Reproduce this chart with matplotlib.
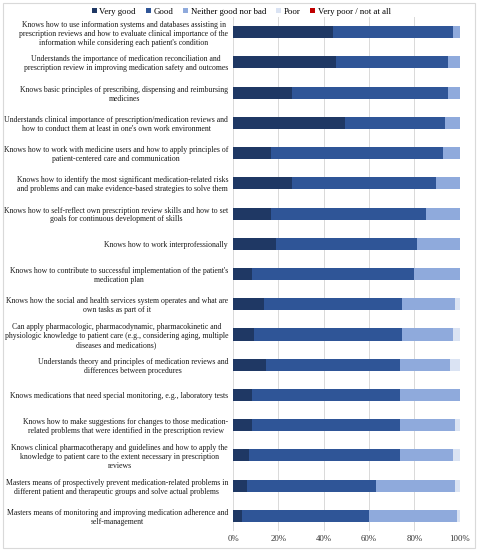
import matplotlib
matplotlib.use('Agg')
import numpy as np
import matplotlib.pyplot as plt
from matplotlib.patches import Rectangle

plt.rcParams['font.family'] = ['Liberation Serif', 'DejaVu Serif']

CATEGORIES = [
    "Knows how to use information systems and databases assisting in\n"
    "prescription reviews and how to evaluate clinical importance of the\n"
    "information while considering each patient's condition",
    "Understands the importance of medication reconciliation and\n"
    "prescription review in improving medication safety and outcomes",
    "Knows basic principles of prescribing, dispensing and reimbursing\n"
    "medicines",
    "Understands clinical importance of prescription/medication reviews and\n"
    "how to conduct them at least in one's own work environment",
    "Knows how to work with medicine users and how to apply principles of\n"
    "patient-centered care and communication",
    "Knows how to identify the most significant medication-related risks\n"
    "and problems and can make evidence-based strategies to solve them",
    "Knows how to self-reflect own prescription review skills and how to set\n"
    "goals for continuous development of skills",
    "Knows how to work interprofessionally",
    "Knows how to contribute to successful implementation of the patient's\n"
    "medication plan",
    "Knows how the social and health services system operates and what are\n"
    "own tasks as part of it",
    "Can apply pharmacologic, pharmacodynamic, pharmacokinetic and\n"
    "physiologic knowledge to patient care (e.g., considering aging, multiple\n"
    "diseases and medications)",
    "Understands theory and principles of medication reviews and\n"
    "differences between procedures",
    "Knows medications that need special monitoring, e.g., laboratory tests",
    "Knows how to make suggestions for changes to those medication-\n"
    "related problems that were identified in the prescription review",
    "Knows clinical pharmacotherapy and guidelines and how to apply the\n"
    "knowledge to patient care to the extent necessary in prescription\n"
    "reviews",
    "Masters means of prospectively prevent medication-related problems in\n"
    "different patient and therapeutic groups and solve actual problems",
    "Masters means of monitoring and improving medication adherence and\n"
    "self-management",
]

SERIES = ['Very good', 'Good', 'Neither good nor bad', 'Poor',
          'Very poor / not at all']

# percentages per category (rows follow CATEGORIES)
VERY_GOOD = [44.2, 45.4, 26.2, 49.3, 16.6, 26.2, 16.6, 18.9, 8.2,
             13.5, 9.4, 14.6, 8.2, 8.2, 7.2, 6.2, 4.1]
GOOD = [52.7, 49.4, 68.6, 44.4, 76.2, 63.3, 68.7, 62.1, 71.8,
        61.2, 65.3, 59.0, 65.4, 65.4, 66.4, 57.0, 55.8]
NEITHER = [3.1, 5.2, 5.2, 6.3, 7.2, 10.5, 14.7, 19.0, 20.0,
           23.2, 22.2, 22.3, 26.4, 24.3, 23.3, 34.7, 39.1]
POOR = [0.0, 0.0, 0.0, 0.0, 0.0, 0.0, 0.0, 0.0, 0.0,
        2.1, 3.1, 4.1, 0.0, 2.1, 3.1, 2.1, 1.0]
VERY_POOR = [0.0] * 17

COLORS = ['#1F3864', '#2F5597', '#8FAADC', '#DAE3F3', '#C00000']
XTICKS = [0, 20, 40, 60, 80, 100]


def main():
    fig = plt.figure(figsize=(4.78, 5.5), dpi=100)
    ax = fig.add_axes([0.4874, 0.0345, 0.4743, 0.9345])

    y = np.arange(len(CATEGORIES))
    left = np.zeros(len(CATEGORIES))
    for name, vals, color in zip(
            SERIES, [VERY_GOOD, GOOD, NEITHER, POOR, VERY_POOR], COLORS):
        vals = np.array(vals)
        ax.barh(y, vals, left=left, height=0.4, color=color,
                label=name, zorder=3)
        left += vals

    ax.set_ylim(len(CATEGORIES) - 0.5, -0.5)
    ax.set_xlim(0, 100)
    ax.set_yticks(y)
    ax.set_yticklabels(CATEGORIES, fontsize=5.6, ma='center',
                       linespacing=1.15, color='#1a1a1a')
    ax.set_xticks(XTICKS)
    ax.set_xticklabels([f'{t}%' for t in XTICKS], fontsize=6.3,
                       color='#333333')
    ax.tick_params(axis='both', length=0)
    ax.tick_params(axis='y', pad=3.5)
    ax.tick_params(axis='x', pad=3)
    for s in ax.spines.values():
        s.set_visible(False)
    ax.grid(axis='x', color='#d9d9d9', linewidth=0.7, zorder=0)

    fig.legend(loc='center', bbox_to_anchor=(0.505, 0.979), ncol=5,
               frameon=False, fontsize=6.3, handlelength=0.55,
               handleheight=0.55, handletextpad=0.3, columnspacing=1.15,
               borderaxespad=0)

    fig.patches.append(Rectangle((0.006, 0.004), 0.987, 0.991,
                                 transform=fig.transFigure, fill=False,
                                 edgecolor='#d9d9d9', linewidth=0.8))
    fig.savefig('out.png', dpi=100)
    plt.close(fig)


if __name__ == '__main__':
    main()
